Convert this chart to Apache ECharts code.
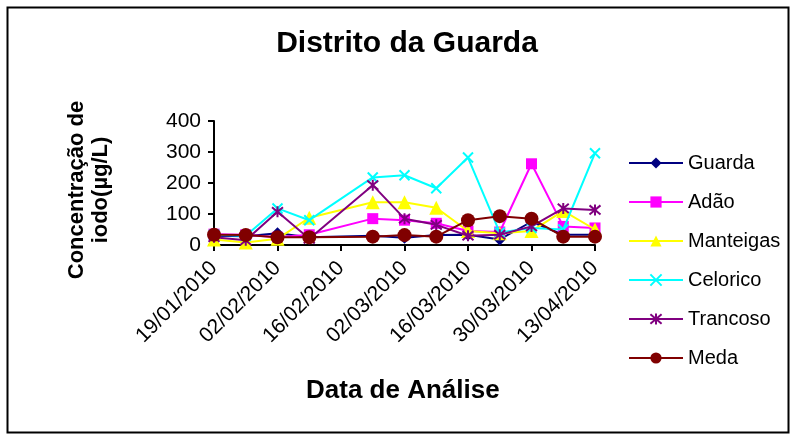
<!DOCTYPE html>
<html>
<head>
<meta charset="utf-8">
<script src="https://cdn.jsdelivr.net/npm/echarts@6/dist/echarts.min.js"></script>
<style>
html,body{margin:0;padding:0;background:#fff;}
#chart{width:792px;height:434px;}
</style>
</head>
<body>
<div id="chart"></div>
<script>
var dates = ['19/01/2010','26/01/2010','02/02/2010','09/02/2010','23/02/2010','02/03/2010','09/03/2010','16/03/2010','23/03/2010','30/03/2010','06/04/2010','13/04/2010'];
var tickLabels = ['19/01/2010','02/02/2010','16/02/2010','02/03/2010','16/03/2010','30/03/2010','13/04/2010'];
var seriesNames = ['Guarda','Adão','Manteigas','Celorico','Trancoso','Meda'];
var guarda    = [30, 28, 38, 25, 30, 23, 32, 33, 18, 75, 33, 33];
var adao      = [35, 33, 25, 33, 85, 80, 70, 45, 42, 262, 60, 55];
var manteigas = [18, 8, 20, 88, 138, 138, 120, 45, 38, 45, 110, 50];
var celorico  = [33, 30, 118, 80, 218, 225, 183, 282, 40, 55, 50, 296];
var trancoso  = [25, 15, 107, 20, 193, 85, 65, 30, 33, 60, 118, 113];
var meda      = [33, 32, 25, 25, 27, 32, 27, 80, 93, 85, 27, 27];

function dayNum(s){
  var p = s.split('/');
  return Date.UTC(+p[2], +p[1]-1, +p[0]) / 86400000;
}
var start = dayNum(tickLabels[0]);
function pairs(vals){
  return dates.map(function(d,i){ return [dayNum(d)-start, vals[i]]; });
}

var FONT = "'Liberation Sans', Arial, sans-serif";
var styles = [
  {color:'#000080', symbol:'diamond', size:12, fill:'#000080', bw:0},
  {color:'#FF00FF', symbol:'rect', size:11, fill:'#FF00FF', bw:0},
  {color:'#FFFF00', symbol:'triangle', size:14, fill:'#FFFF00', bw:0},
  {color:'#00FFFF', symbol:'path://M0,0L10,10M10,0L0,10', size:10, fill:'none', bw:2},
  {color:'#800080', symbol:'path://M0,0L10,10M10,0L0,10M5,-1L5,11', size:11, fill:'none', bw:2},
  {color:'#800000', symbol:'circle', size:14, fill:'#800000', bw:0}
];
var allVals = [guarda, adao, manteigas, celorico, trancoso, meda];

var series = seriesNames.map(function(n,i){
  var st = styles[i];
  return {
    name:n, type:'line', data:pairs(allVals[i]),
    symbol:st.symbol, symbolSize:st.size, showAllSymbol:true,
    lineStyle:{color:st.color, width:2},
    itemStyle:{color:st.fill==='none'?'rgba(0,0,0,0)':st.fill, borderColor:st.color, borderWidth:st.bw},
    emphasis:{disabled:true},
    z: 2 + i
  };
});

var chart = echarts.init(document.getElementById('chart'));
chart.setOption({
  animation:false,
  backgroundColor:'#fff',
  textStyle:{fontFamily:FONT},
  title:{
    text:'Distrito da Guarda', left:402, top:24, textAlign:'center',
    textStyle:{fontFamily:FONT, fontSize:30, fontWeight:'bold', color:'#000'}
  },
  graphic:[{
    type:'rect', left:5, top:5, shape:{width:781, height:425},
    style:{fill:'none', stroke:'#000', lineWidth:2}, silent:true, z:-1
  },{
    type:'text', left:306, top:378,
    style:{text:'Data de Análise', font:'bold 26px ' + FONT, fill:'#000'}
  }],
  legend:{
    orient:'vertical', left:628, top:153, itemWidth:54, itemHeight:14, itemGap:19,
    padding:0,
    textStyle:{fontFamily:FONT, fontSize:20, color:'#000', lineHeight:20},
    data:seriesNames
  },
  grid:{left:214, right:197, top:121, bottom:189, containLabel:false},
  xAxis:{
    type:'value', min:0, max:84, interval:14,
    axisLine:{lineStyle:{color:'#000', width:2}},
    axisTick:{show:true, length:6, lineStyle:{color:'#000', width:2}},
    splitLine:{show:false},
    axisLabel:{
      rotate:45, margin:20, fontSize:21, color:'#000', fontFamily:FONT,
      formatter:function(v){ return tickLabels[Math.round(v/14)] || ''; }
    }
  },
  yAxis:{
    type:'value', min:0, max:400, interval:100,
    name:'Concentração de\niodo(µg/L)', nameLocation:'middle', nameRotate:90, nameGap:101,
    nameTextStyle:{fontFamily:FONT, fontSize:22, fontWeight:'bold', color:'#000', lineHeight:24, padding:[0,14,0,0]},
    axisLine:{show:true, lineStyle:{color:'#000', width:2}},
    axisTick:{show:true, length:6, lineStyle:{color:'#000', width:2}},
    splitLine:{show:false},
    axisLabel:{margin:13, fontSize:21, color:'#000', fontFamily:FONT}
  },
  series:series
});
</script>
</body>
</html>
